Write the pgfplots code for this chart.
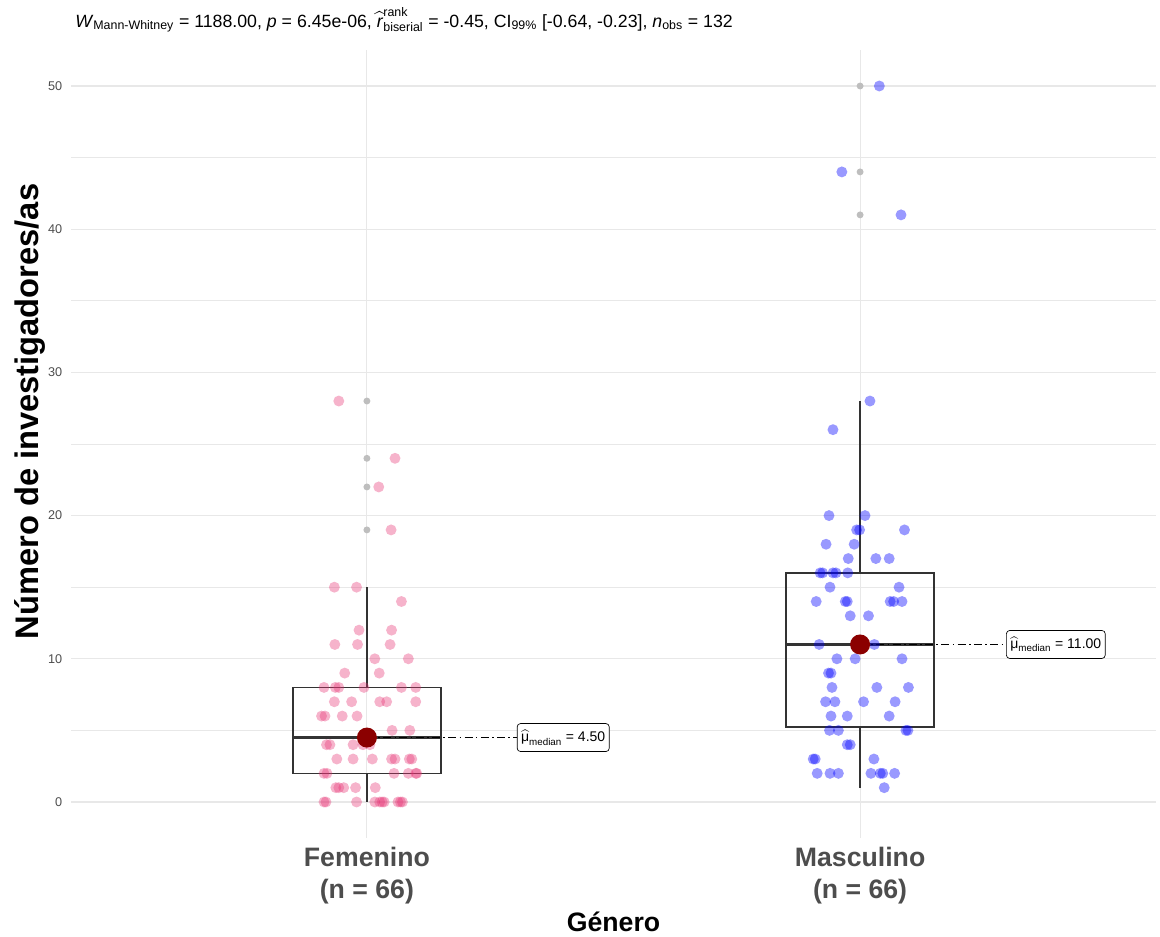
\documentclass[border=0pt]{standalone}
\usepackage{pgfplots}
\pgfplotsset{compat=1.18}
\usepgfplotslibrary{statistics}
\usepackage{pgfplotstable}
\usepackage{amsmath}
\usepackage{fontspec}
\setmainfont{Liberation Sans}
\definecolor{femc}{RGB}{230,50,115}
\definecolor{masc}{RGB}{0,0,255}
\definecolor{gridc}{RGB}{232,232,232}
\definecolor{boxc}{RGB}{51,51,51}
\definecolor{txtgray}{RGB}{77,77,77}
\definecolor{medred}{RGB}{139,0,0}
\definecolor{outc}{RGB}{190,190,190}

\pgfplotstableread{
x y
0.934 15
0.979 15
1.070 14
0.984 12
1.050 12
0.935 11
0.981 11
1.047 11
1.016 10
1.084 10
0.955 9
1.025 9
0.913 8
0.936 8
0.943 8
0.994 8
1.070 8
1.099 8
0.934 7
0.969 7
1.026 7
1.040 7
1.099 7
0.908 6
0.915 6
0.950 6
0.980 6
1.051 5
1.087 5
0.918 4
0.925 4
0.972 4
0.992 4
1.006 4
0.939 3
0.972 3
1.011 3
1.050 3
1.057 3
1.086 3
1.091 3
0.913 2
0.919 2
1.055 2
1.084 2
1.099 2
1.101 2
0.937 1
0.943 1
0.953 1
0.977 1
1.017 1
0.913 0
0.917 0
0.979 0
1.016 0
1.026 0
1.031 0
1.035 0
1.063 0
1.068 0
1.072 0
0.943 28
1.057 24
1.024 22
1.049 19
}\femtable

\pgfplotstableread{
x y
1.937 20
2.010 20
1.993 19
1.999 19
2.090 19
1.931 18
1.988 18
1.976 17
2.032 17
2.059 17
1.919 16
1.924 16
1.945 16
1.951 16
1.975 16
1.939 15
2.079 15
1.911 14
1.970 14
1.974 14
2.061 14
2.068 14
2.085 14
1.980 13
2.017 13
1.917 11
2.029 11
1.996 11
1.953 10
1.990 10
2.085 10
1.936 9
1.941 9
1.943 8
2.034 8
2.098 8
1.930 7
1.949 7
2.007 7
2.071 7
1.941 6
1.974 6
2.059 6
1.938 5
1.956 5
2.093 5
2.097 5
1.974 4
1.980 4
1.905 3
1.909 3
2.028 3
1.913 2
1.939 2
1.956 2
2.022 2
2.041 2
2.046 2
2.070 2
2.049 1
1.945 26
2.020 28
2.083 41
1.963 44
2.039 50
}\mastable

\begin{document}
\begin{tikzpicture}
\useasboundingbox (0,0) rectangle (870pt,702.75pt);
\begin{axis}[
  at={(53.25pt,74.25pt)}, anchor=south west,
  scale only axis, width=813.75pt, height=591pt,
  xmin=0.4, xmax=2.6, ymin=-2.514, ymax=52.514,
  axis line style={draw=none},
  major tick length=0pt, minor tick length=0pt,
  xtick={1,2},
  xticklabels={{Femenino\\(n = 66)},{Masculino\\(n = 66)}},
  ytick={0,10,20,30,40,50},
  minor ytick={5,15,25,35,45},
  grid=both,
  major grid style={gridc, line width=0.85pt},
  minor grid style={gridc, line width=0.45pt},
  /pgf/number format/assume math mode=true,
  yticklabel style={font=\fontsize{9.5}{11}\selectfont, text=txtgray, xshift=-3pt},
  xticklabel style={font=\bfseries\fontsize{20}{24}\selectfont, text=txtgray, align=center, yshift=-3.5pt},
  xlabel={Género},
  xlabel style={font=\bfseries\fontsize{20}{24}\selectfont, at={(rel axis cs:0.5,-0.1193)}, anchor=base},
  ylabel={Número de investigadores/as},
  ylabel style={font=\bfseries\fontsize{24.5}{28}\selectfont, at={(rel axis cs:-0.02995,0.5412)}, anchor=base, rotate=0},
  title={\textit{W}$_{\text{Mann-Whitney}}$ = 1188.00, \textit{p} = 6.45e-06, $\widehat{\text{\textit{r}}}^{\text{rank}}_{\text{biserial}}$ = -0.45, CI$_{\text{99\%}}$ [-0.64, -0.23], \textit{n}$_{\text{obs}}$ = 132},
  title style={font=\fontsize{13.3}{15}\selectfont, at={(rel axis cs:0.0037,1.019)}, anchor=base west, yshift=0pt, inner sep=0pt},
  boxplot/draw direction=y,
  clip=false,
]
\addplot[only marks, mark=*, mark size=4.1pt, mark options={draw opacity=0, fill=femc, fill opacity=0.37}] table {\femtable};
\addplot[only marks, mark=*, mark size=4.1pt, mark options={draw opacity=0, fill=masc, fill opacity=0.4}] table {\mastable};

\addplot[draw=boxc, line width=1.25pt, mark=none, boxplot/every median/.style={line width=2.4pt},
  boxplot prepared={draw position=1, median=4.5, lower quartile=2, upper quartile=8,
  lower whisker=0, upper whisker=15, box extend=0.3, whisker extend=0}] coordinates {};
\addplot[draw=boxc, line width=1.25pt, mark=none, boxplot/every median/.style={line width=2.4pt},
  boxplot prepared={draw position=2, median=11, lower quartile=5.25, upper quartile=16,
  lower whisker=1, upper whisker=28, box extend=0.3, whisker extend=0}] coordinates {};

\addplot[only marks, mark=*, mark size=2.6pt, mark options={draw opacity=0, fill=outc}] coordinates {(1,28) (1,24) (1,22) (1,19) (2,50) (2,44) (2,41)};

\addplot[only marks, mark=*, mark size=7.5pt, mark options={draw opacity=0, fill=medred}] coordinates {(1,4.5) (2,11)};

\addplot[black, line width=1pt, dash pattern=on 6pt off 2.5pt on 1.2pt off 2.5pt] coordinates {(1,4.5) (1.304,4.5)};
\addplot[black, line width=1pt, dash pattern=on 6pt off 2.5pt on 1.2pt off 2.5pt] coordinates {(2,11) (2.296,11)};

\node[draw=black, fill=white, rounded corners=2.5pt, line width=0.5pt, anchor=west, font=\fontsize{10.5}{12}\selectfont, inner xsep=3pt, minimum height=21pt] at (axis cs:1.304,4.5) {$\widehat{\text{μ}}_{\text{median}}$ = 4.50};
\node[draw=black, fill=white, rounded corners=2.5pt, line width=0.5pt, anchor=west, font=\fontsize{10.5}{12}\selectfont, inner xsep=3pt, minimum height=21pt] at (axis cs:2.296,11) {$\widehat{\text{μ}}_{\text{median}}$ = 11.00};
\end{axis}
\end{tikzpicture}
\end{document}
